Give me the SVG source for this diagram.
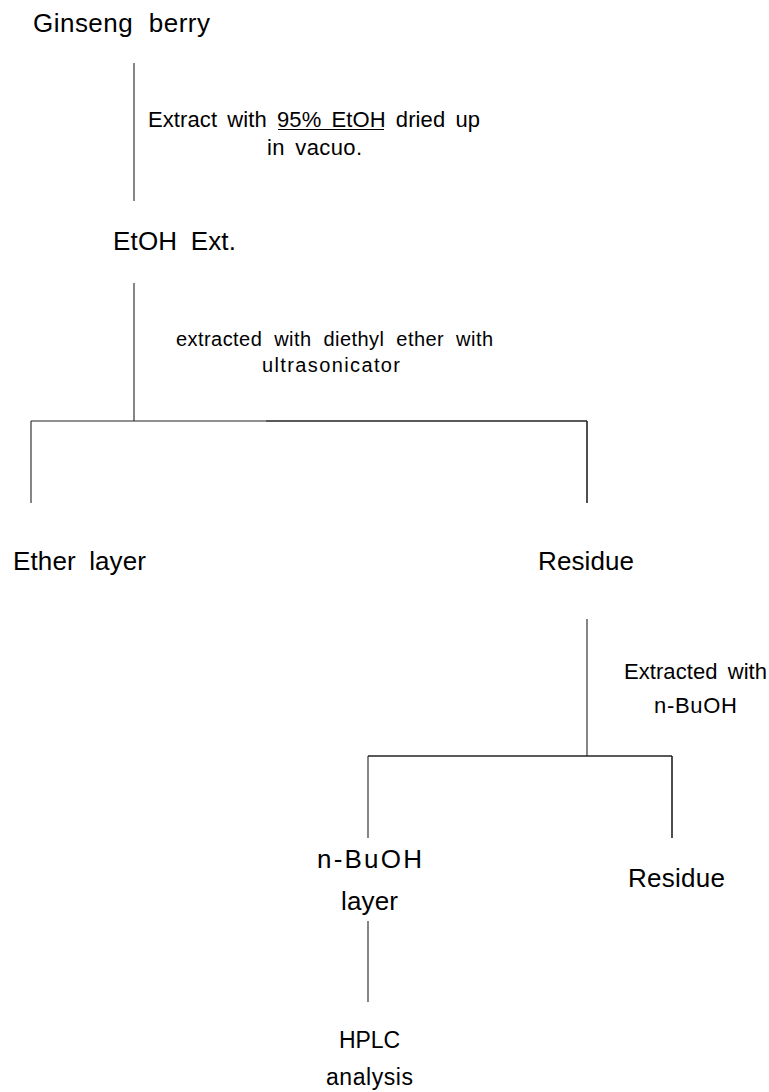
<svg xmlns="http://www.w3.org/2000/svg" width="769" height="1092" viewBox="0 0 769 1092">
<style>
.n{font-family:"Liberation Sans",Arial,sans-serif;font-size:26px;fill:#000;word-spacing:6px}
.l{font-family:"Liberation Sans",Arial,sans-serif;font-size:22px;fill:#000;word-spacing:4px}
.s{font-family:"Liberation Sans",Arial,sans-serif;font-size:20px;fill:#000;word-spacing:6px}
.h{font-family:"Liberation Sans",Arial,sans-serif;font-size:23px;fill:#000}
.c{stroke:#222;stroke-width:1.1;fill:none}
.t{stroke:#222;stroke-width:1.6;fill:none}
</style>
<rect width="769" height="1092" fill="#fff"/>
<g id="connectors">
<line class="c" x1="134" y1="63" x2="134" y2="201"/>
<line class="c" x1="134" y1="283" x2="134" y2="421"/>
<line class="c" x1="31" y1="421" x2="266" y2="421"/>
<line class="t" x1="266" y1="421" x2="587" y2="421"/>
<line class="c" x1="31" y1="421" x2="31" y2="503"/>
<line class="t" x1="587" y1="421" x2="587" y2="503"/>
<line class="c" x1="587" y1="619" x2="587" y2="756"/>
<line class="t" x1="368" y1="756" x2="672" y2="756"/>
<line class="c" x1="368" y1="756" x2="368" y2="838"/>
<line class="t" x1="672" y1="756" x2="672" y2="838"/>
<line class="c" x1="368" y1="921" x2="368" y2="1002"/>
</g>
<g id="edge-labels">
<g id="label-etoh">
<text class="l" x="148" y="127" textLength="332" lengthAdjust="spacing">Extract with 95% EtOH dried up</text>
<line x1="278" y1="129.5" x2="384" y2="129.5" stroke="#000" stroke-width="1"/>
<text class="l" x="267" y="155" textLength="95" lengthAdjust="spacing">in vacuo.</text>
</g>
<g id="label-ether">
<text class="s" x="176" y="346" textLength="317" lengthAdjust="spacing">extracted with diethyl ether with</text>
<text class="s" x="262" y="372" textLength="138" lengthAdjust="spacing">ultrasonicator</text>
</g>
<g id="label-buoh">
<text class="l" x="624" y="679" textLength="143" lengthAdjust="spacing">Extracted with</text>
<text class="l" x="654" y="713" textLength="83" lengthAdjust="spacing">n-BuOH</text>
</g>
</g>
<g id="node-ginseng"><text class="n" x="33" y="32" textLength="177" lengthAdjust="spacing" style="word-spacing:8px">Ginseng berry</text></g>
<g id="node-etoh-ext"><text class="n" x="113" y="250" textLength="123" lengthAdjust="spacing">EtOH Ext.</text></g>
<g id="node-ether-layer"><text class="n" x="13" y="570" textLength="133" lengthAdjust="spacing">Ether layer</text></g>
<g id="node-residue-1"><text class="n" x="538" y="570" textLength="96" lengthAdjust="spacing">Residue</text></g>
<g id="node-buoh-layer">
<text class="n" x="317" y="868" textLength="105" lengthAdjust="spacing">n-BuOH</text>
<text class="n" x="341" y="910" textLength="57" lengthAdjust="spacing">layer</text>
</g>
<g id="node-residue-2"><text class="n" x="628" y="887" textLength="97" lengthAdjust="spacing">Residue</text></g>
<g id="node-hplc">
<text class="h" x="339" y="1048" textLength="61" lengthAdjust="spacing">HPLC</text>
<text class="h" x="326" y="1085" textLength="87" lengthAdjust="spacing">analysis</text>
</g>
</svg>
